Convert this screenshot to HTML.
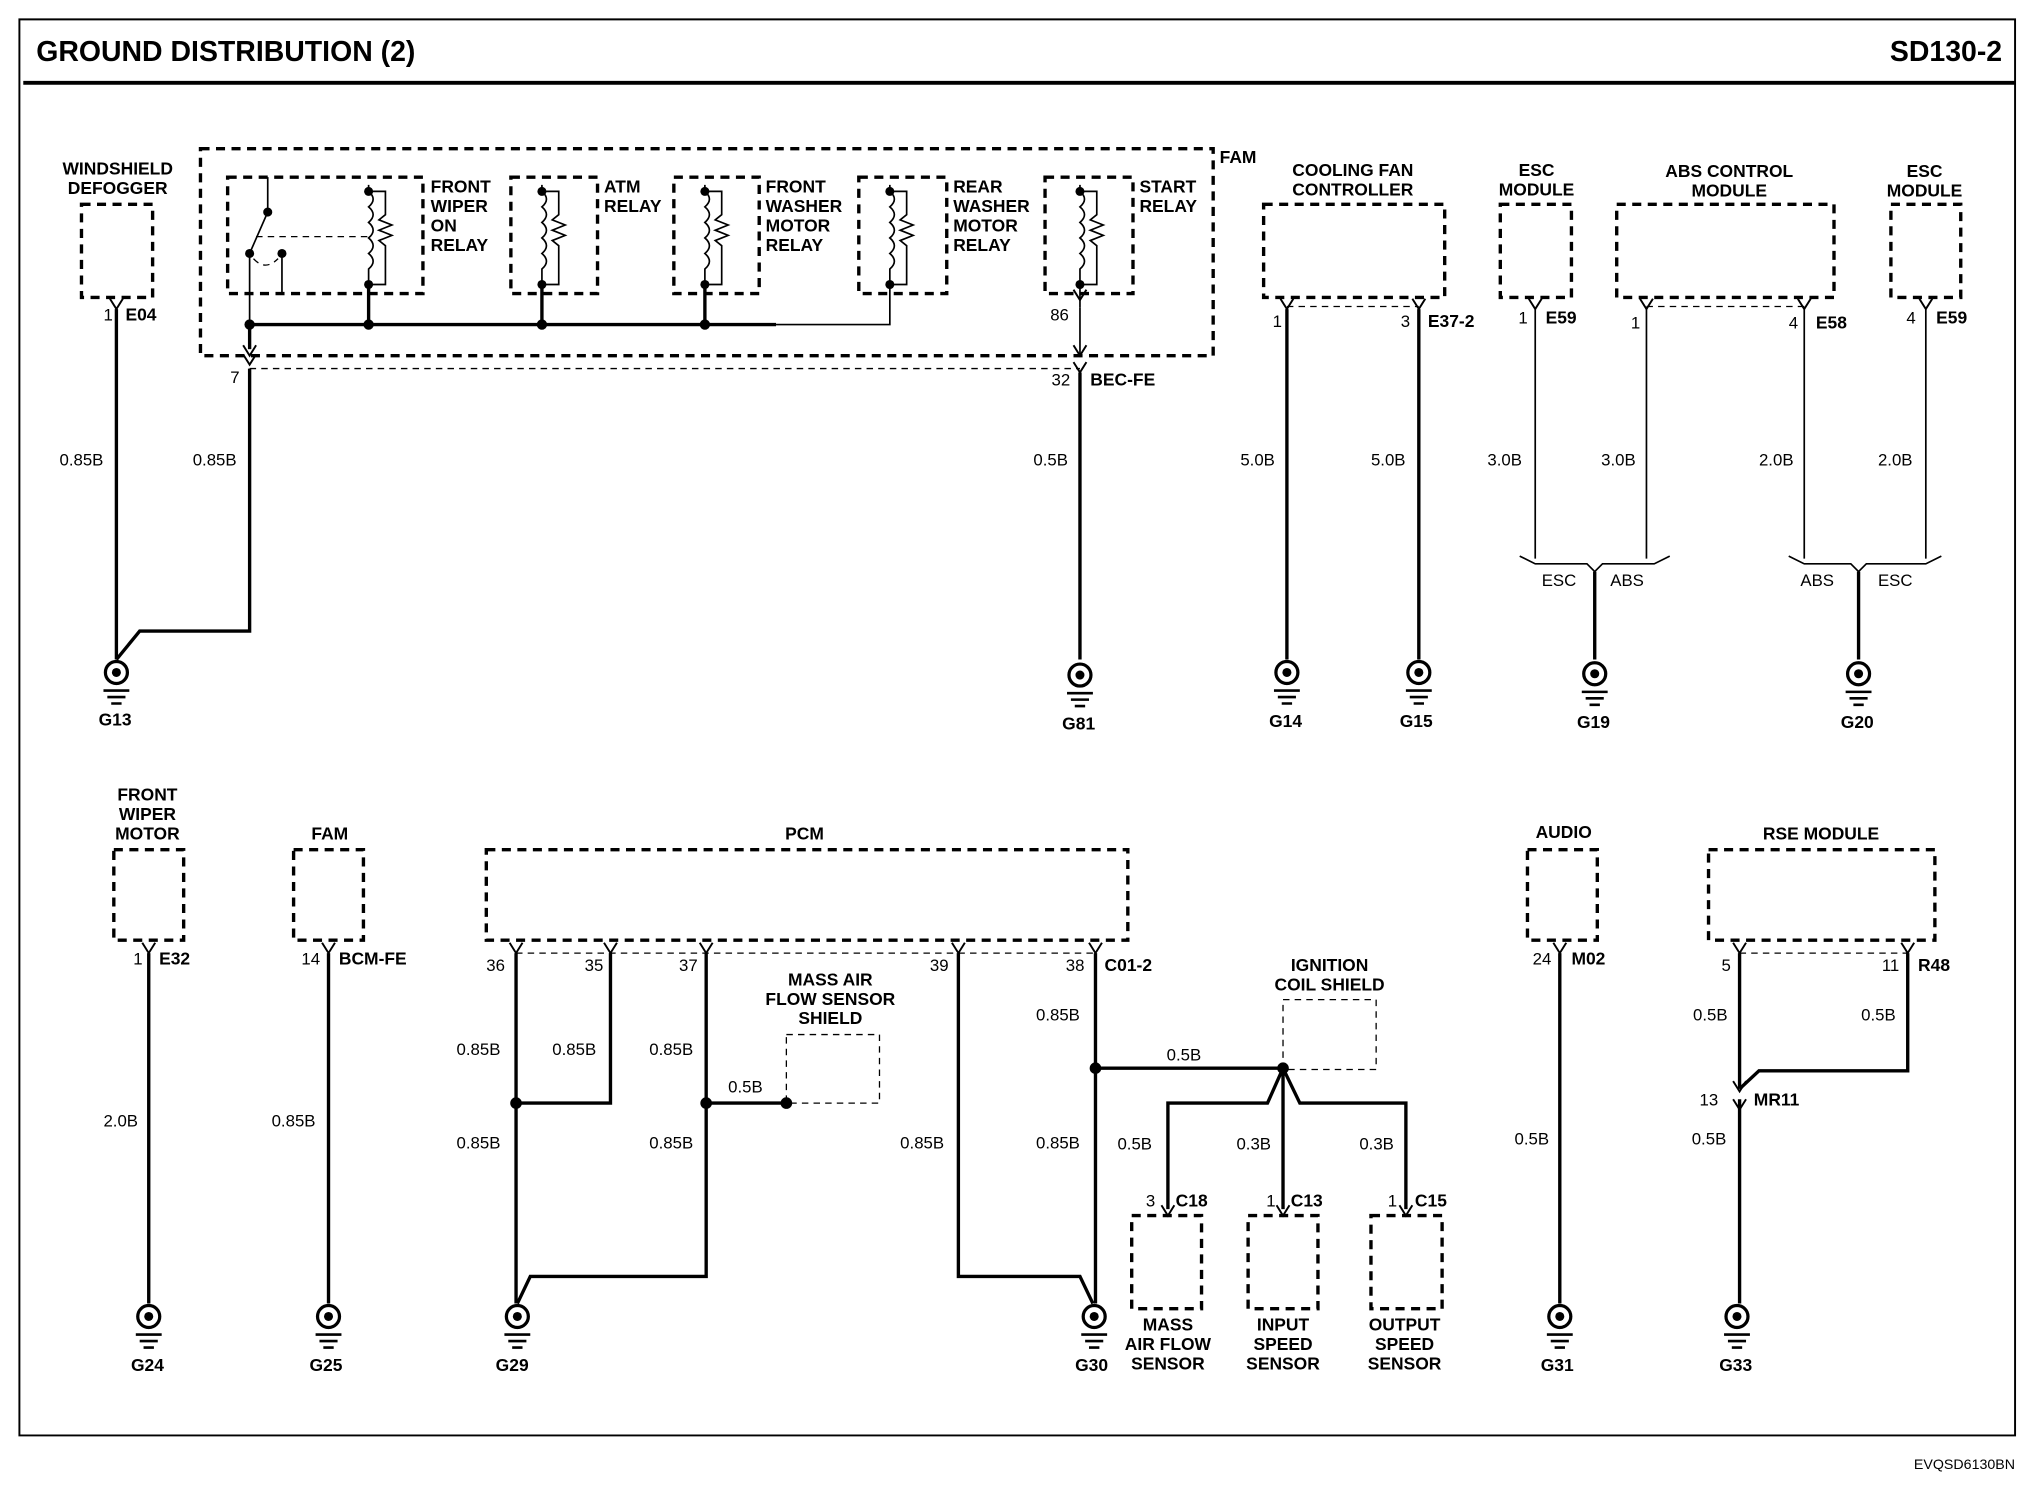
<!DOCTYPE html>
<html><head><meta charset="utf-8"><style>
html,body{margin:0;padding:0;background:#fff;}
svg{display:block;}
text{font-family:"Liberation Sans",sans-serif;fill:#000;}
.b{font-weight:bold;font-size:13.5px;}
.n{font-size:13px;}
.w{stroke:#000;stroke-width:2.6;fill:none;}
.t{stroke:#000;stroke-width:1.3;fill:none;}
.d{stroke:#000;stroke-width:2.6;fill:none;stroke-dasharray:7,5;}
.dt{stroke:#000;stroke-width:1;fill:none;stroke-dasharray:5,4;}
</style></head><body>
<svg width="2028" height="1504" viewBox="0 0 1568 1163" preserveAspectRatio="none" xmlns="http://www.w3.org/2000/svg">
<defs>
<g id="gnd"><circle cx="0" cy="0" r="8.5" fill="#fff" stroke="#000" stroke-width="2.5"/><circle cx="0" cy="0" r="3.5" fill="#000"/><path d="M-10 14H10M-7 19H7M-4 24H4" stroke="#000" stroke-width="2"/></g>
<path id="v" d="M-5 -8L0 0L5 -8" stroke="#000" stroke-width="1.5" fill="none"/>
<g id="relay"><path d="M0 -5 V0 q7 6 0 12 q7 6 0 12 q7 6 0 12 q7 6 0 12 q7 6 0 12 V72" class="t"/><path d="M0 0H13V18l-5 4 10 4-10 4 10 4-10 4 5 4V72H0" class="t"/><circle cx="0" cy="0" r="3.5"/><circle cx="0" cy="72" r="3.5"/></g>
</defs>
<!-- frame -->
<path d="M15 15H1558V1110H15Z" stroke="#000" stroke-width="1.5" fill="none"/>
<path d="M18 64H1558" stroke="#000" stroke-width="3"/>
<text x="28" y="47" style="font-weight:bold;font-size:22px">GROUND DISTRIBUTION (2)</text>
<text x="1548" y="47" text-anchor="end" style="font-weight:bold;font-size:22px">SD130-2</text>
<text x="1558" y="1136" text-anchor="end" style="font-size:11px">EVQSD6130BN</text>

<!-- windshield defogger -->
<text class="b" x="91" y="135" text-anchor="middle">WINDSHIELD</text>
<text class="b" x="91" y="150" text-anchor="middle">DEFOGGER</text>
<rect class="d" x="63" y="158" width="55" height="72"/>
<use href="#v" x="90" y="239"/>
<text class="n" x="80" y="248">1</text><text class="b" x="97" y="248">E04</text>
<path class="w" d="M90 239V510"/>
<text class="n" x="46" y="360">0.85B</text>
<path class="w" d="M193 285V488H108L90 510"/>
<text class="n" x="149" y="360">0.85B</text>
<use href="#gnd" x="90" y="520"/><text class="b" x="89" y="561" text-anchor="middle">G13</text>

<!-- FAM -->
<rect class="d" x="155" y="115" width="783" height="160"/>
<text class="b" x="943" y="126">FAM</text>
<rect class="d" x="176" y="137" width="151" height="90"/>
<rect class="d" x="395" y="137" width="67" height="90"/>
<rect class="d" x="521" y="137" width="66" height="90"/>
<rect class="d" x="664" y="137" width="68" height="90"/>
<rect class="d" x="808" y="137" width="68" height="90"/>
<use href="#relay" x="285" y="148"/>
<use href="#relay" x="419" y="148"/>
<use href="#relay" x="545" y="148"/>
<use href="#relay" x="688" y="148"/>
<use href="#relay" x="835" y="148"/>
<!-- wiper switch -->
<path class="t" d="M207 137V164L193 196V251M218 196V227"/>
<circle cx="207" cy="164" r="3.5"/><circle cx="193" cy="196" r="3.5"/><circle cx="218" cy="196" r="3.5"/>
<path class="dt" d="M198 183H285M196 200Q205 210 215 200"/>
<path class="w" d="M193 251H600M285 220V251M419 220V251M545 220V251"/>
<path class="t" d="M600 251H688V220"/>
<circle cx="193" cy="251" r="4"/><circle cx="285" cy="251" r="4"/><circle cx="419" cy="251" r="4"/><circle cx="545" cy="251" r="4"/>
<path class="w" d="M193 251V270"/>
<use href="#v" x="193" y="275"/><use href="#v" x="193" y="282"/>
<path class="t" d="M835 220V238"/><use href="#v" x="835" y="232"/>
<text class="n" x="812" y="248">86</text>
<path class="t" d="M835 238V275"/><use href="#v" x="835" y="275"/><use href="#v" x="835" y="288"/>
<path class="dt" d="M193 285H835"/>
<text class="n" x="178" y="296">7</text>
<text class="n" x="813" y="298">32</text><text class="b" x="843" y="298">BEC-FE</text>
<text class="b" x="333" y="149">FRONT</text><text class="b" x="333" y="164">WIPER</text><text class="b" x="333" y="179">ON</text><text class="b" x="333" y="194">RELAY</text>
<text class="b" x="467" y="149">ATM</text><text class="b" x="467" y="164">RELAY</text>
<text class="b" x="592" y="149">FRONT</text><text class="b" x="592" y="164">WASHER</text><text class="b" x="592" y="179">MOTOR</text><text class="b" x="592" y="194">RELAY</text>
<text class="b" x="737" y="149">REAR</text><text class="b" x="737" y="164">WASHER</text><text class="b" x="737" y="179">MOTOR</text><text class="b" x="737" y="194">RELAY</text>
<text class="b" x="881" y="149">START</text><text class="b" x="881" y="164">RELAY</text>
<path class="w" d="M835 288V510"/>
<text class="n" x="799" y="360">0.5B</text>
<use href="#gnd" x="835" y="522"/><text class="b" x="834" y="564" text-anchor="middle">G81</text>

<!-- cooling fan -->
<text class="b" x="1046" y="136" text-anchor="middle">COOLING FAN</text>
<text class="b" x="1046" y="151" text-anchor="middle">CONTROLLER</text>
<rect class="d" x="977" y="158" width="140" height="72"/>
<use href="#v" x="995" y="239"/><use href="#v" x="1097" y="239"/>
<path class="dt" d="M995 237H1097"/>
<text class="n" x="984" y="253">1</text><text class="n" x="1083" y="253">3</text><text class="b" x="1104" y="253">E37-2</text>
<path class="w" d="M995 239V510M1097 239V510"/>
<text class="n" x="959" y="360">5.0B</text><text class="n" x="1060" y="360">5.0B</text>
<use href="#gnd" x="995" y="520"/><text class="b" x="994" y="562" text-anchor="middle">G14</text>
<use href="#gnd" x="1097" y="520"/><text class="b" x="1095" y="562" text-anchor="middle">G15</text>

<!-- ESC / ABS -->
<text class="b" x="1188" y="136" text-anchor="middle">ESC</text><text class="b" x="1188" y="151" text-anchor="middle">MODULE</text>
<rect class="d" x="1160" y="158" width="55" height="72"/>
<use href="#v" x="1187" y="239"/>
<text class="n" x="1174" y="250">1</text><text class="b" x="1195" y="250">E59</text>
<text class="b" x="1337" y="137" text-anchor="middle">ABS CONTROL</text><text class="b" x="1337" y="152" text-anchor="middle">MODULE</text>
<rect class="d" x="1250" y="158" width="168" height="72"/>
<use href="#v" x="1273" y="239"/><use href="#v" x="1395" y="239"/>
<path class="dt" d="M1273 237H1395"/>
<text class="n" x="1261" y="254">1</text><text class="n" x="1383" y="254">4</text><text class="b" x="1404" y="254">E58</text>
<text class="b" x="1488" y="137" text-anchor="middle">ESC</text><text class="b" x="1488" y="152" text-anchor="middle">MODULE</text>
<rect class="d" x="1462" y="158" width="54" height="72"/>
<use href="#v" x="1489" y="239"/>
<text class="n" x="1474" y="250">4</text><text class="b" x="1497" y="250">E59</text>
<path class="t" d="M1187 239V432M1273 239V432M1395 239V432M1489 239V432"/>
<text class="n" x="1150" y="360">3.0B</text><text class="n" x="1238" y="360">3.0B</text>
<text class="n" x="1360" y="360">2.0B</text><text class="n" x="1452" y="360">2.0B</text>
<path class="t" d="M1175 430L1187 436H1227L1233 442L1239 436H1279L1291 430"/>
<path class="t" d="M1383 430L1395 436H1431L1437 442L1443 436H1489L1501 430"/>
<path class="w" d="M1233 442V510M1437 442V510"/>
<text class="n" x="1192" y="453">ESC</text><text class="n" x="1245" y="453">ABS</text>
<text class="n" x="1392" y="453">ABS</text><text class="n" x="1452" y="453">ESC</text>
<use href="#gnd" x="1233" y="521"/><text class="b" x="1232" y="563" text-anchor="middle">G19</text>
<use href="#gnd" x="1437" y="521"/><text class="b" x="1436" y="563" text-anchor="middle">G20</text>

<!-- bottom: front wiper motor -->
<text class="b" x="114" y="619" text-anchor="middle">FRONT</text><text class="b" x="114" y="634" text-anchor="middle">WIPER</text><text class="b" x="114" y="649" text-anchor="middle">MOTOR</text>
<rect class="d" x="88" y="657" width="54" height="70"/>
<use href="#v" x="115" y="737"/>
<text class="n" x="103" y="746">1</text><text class="b" x="123" y="746">E32</text>
<path class="w" d="M115 737V1008"/>
<text class="n" x="80" y="871">2.0B</text>
<use href="#gnd" x="115" y="1018"/><text class="b" x="114" y="1060" text-anchor="middle">G24</text>

<text class="b" x="255" y="649" text-anchor="middle">FAM</text>
<rect class="d" x="227" y="657" width="54" height="70"/>
<use href="#v" x="254" y="737"/>
<text class="n" x="233" y="746">14</text><text class="b" x="262" y="746">BCM-FE</text>
<path class="w" d="M254 737V1008"/>
<text class="n" x="210" y="871">0.85B</text>
<use href="#gnd" x="254" y="1018"/><text class="b" x="252" y="1060" text-anchor="middle">G25</text>

<!-- PCM -->
<text class="b" x="622" y="649" text-anchor="middle">PCM</text>
<rect class="d" x="376" y="657" width="496" height="70"/>
<use href="#v" x="399" y="737"/><use href="#v" x="472" y="737"/><use href="#v" x="546" y="737"/><use href="#v" x="741" y="737"/><use href="#v" x="847" y="737"/>
<path class="dt" d="M399 737H847"/>
<text class="n" x="376" y="751">36</text><text class="n" x="452" y="751">35</text><text class="n" x="525" y="751">37</text><text class="n" x="719" y="751">39</text><text class="n" x="824" y="751">38</text><text class="b" x="854" y="751">C01-2</text>
<path class="w" d="M399 737V1008M472 737V853H399M546 737V987H410L400 1008M546 853H608M741 737V987H835L845 1008M847 737V1008"/>
<circle cx="399" cy="853" r="4.5"/><circle cx="546" cy="853" r="4.5"/><circle cx="608" cy="853" r="4.5"/>
<rect class="dt" x="608" y="800" width="72" height="53"/>
<text class="b" x="642" y="762" text-anchor="middle">MASS AIR</text><text class="b" x="642" y="777" text-anchor="middle">FLOW SENSOR</text><text class="b" x="642" y="792" text-anchor="middle">SHIELD</text>
<text class="n" x="353" y="816">0.85B</text><text class="n" x="427" y="816">0.85B</text><text class="n" x="502" y="816">0.85B</text>
<text class="n" x="563" y="845">0.5B</text>
<text class="n" x="353" y="888">0.85B</text><text class="n" x="502" y="888">0.85B</text><text class="n" x="696" y="888">0.85B</text><text class="n" x="801" y="888">0.85B</text>
<text class="n" x="801" y="789">0.85B</text>
<use href="#gnd" x="400" y="1018"/><text class="b" x="396" y="1060" text-anchor="middle">G29</text>
<use href="#gnd" x="846" y="1018"/><text class="b" x="844" y="1060" text-anchor="middle">G30</text>

<!-- ignition coil shield -->
<path class="w" d="M847 826H992M992 826L980 853H903V935M992 826V935M992 826L1005 853H1087V935"/>
<circle cx="847" cy="826" r="4.5"/><circle cx="992" cy="826" r="4.5"/>
<text class="n" x="902" y="820">0.5B</text>
<rect class="dt" x="992" y="773" width="72" height="54"/>
<text class="b" x="1028" y="751" text-anchor="middle">IGNITION</text><text class="b" x="1028" y="766" text-anchor="middle">COIL SHIELD</text>
<text class="n" x="864" y="889">0.5B</text><text class="n" x="956" y="889">0.3B</text><text class="n" x="1051" y="889">0.3B</text>
<use href="#v" x="903" y="940"/><use href="#v" x="992" y="940"/><use href="#v" x="1087" y="940"/>
<text class="n" x="886" y="933">3</text><text class="b" x="909" y="933">C18</text>
<text class="n" x="979" y="933">1</text><text class="b" x="998" y="933">C13</text>
<text class="n" x="1073" y="933">1</text><text class="b" x="1094" y="933">C15</text>
<rect class="d" x="875" y="940" width="54" height="72"/>
<rect class="d" x="965" y="940" width="54" height="72"/>
<rect class="d" x="1060" y="940" width="55" height="72"/>
<text class="b" x="903" y="1029" text-anchor="middle">MASS</text><text class="b" x="903" y="1044" text-anchor="middle">AIR FLOW</text><text class="b" x="903" y="1059" text-anchor="middle">SENSOR</text>
<text class="b" x="992" y="1029" text-anchor="middle">INPUT</text><text class="b" x="992" y="1044" text-anchor="middle">SPEED</text><text class="b" x="992" y="1059" text-anchor="middle">SENSOR</text>
<text class="b" x="1086" y="1029" text-anchor="middle">OUTPUT</text><text class="b" x="1086" y="1044" text-anchor="middle">SPEED</text><text class="b" x="1086" y="1059" text-anchor="middle">SENSOR</text>

<!-- audio -->
<text class="b" x="1209" y="648" text-anchor="middle">AUDIO</text>
<rect class="d" x="1181" y="657" width="54" height="70"/>
<use href="#v" x="1206" y="737"/>
<text class="n" x="1185" y="746">24</text><text class="b" x="1215" y="746">M02</text>
<path class="w" d="M1206 737V1008"/>
<text class="n" x="1171" y="885">0.5B</text>
<use href="#gnd" x="1206" y="1018"/><text class="b" x="1204" y="1060" text-anchor="middle">G31</text>

<!-- RSE -->
<text class="b" x="1408" y="649" text-anchor="middle">RSE MODULE</text>
<rect class="d" x="1321" y="657" width="175" height="70"/>
<use href="#v" x="1345" y="737"/><use href="#v" x="1475" y="737"/>
<path class="dt" d="M1345 737H1475"/>
<text class="n" x="1331" y="751">5</text><text class="n" x="1455" y="751">11</text><text class="b" x="1483" y="751">R48</text>
<path class="w" d="M1345 737V842M1475 737V828H1360L1345 842M1345 850V1008"/>
<use href="#v" x="1345" y="844"/><use href="#v" x="1345" y="858"/>
<text class="n" x="1314" y="855">13</text><text class="b" x="1356" y="855">MR11</text>
<text class="n" x="1309" y="789">0.5B</text><text class="n" x="1439" y="789">0.5B</text><text class="n" x="1308" y="885">0.5B</text>
<use href="#gnd" x="1343" y="1018"/><text class="b" x="1342" y="1060" text-anchor="middle">G33</text>
</svg>
</body></html>
